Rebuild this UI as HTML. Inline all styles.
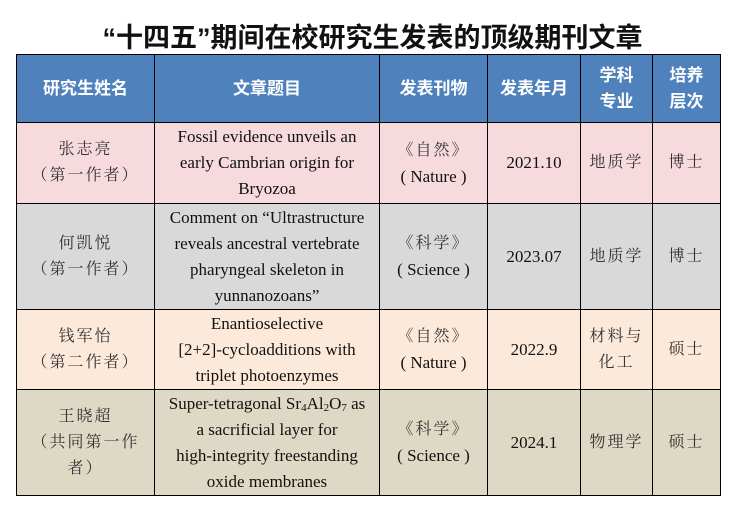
<!DOCTYPE html>
<html><head><meta charset="utf-8"><style>
body{margin:0;width:741px;height:512px;background:#fff;position:relative;overflow:hidden;font-family:"Liberation Serif","Noto Serif CJK SC",serif;}
.t{position:absolute;left:0;width:745px;top:21px;text-align:center;font-size:27px;font-weight:bold;font-family:"Liberation Sans","Noto Sans CJK SC",sans-serif;color:#111;line-height:34px;}
table{position:absolute;left:16px;top:54px;border-collapse:collapse;table-layout:fixed;}
td{border:1.5px solid #000;text-align:center;vertical-align:middle;font-size:17px;line-height:26px;color:#111;padding:0;}
th{border:1.5px solid #000;background:#4f81bd;color:#fff;font-size:17px;font-family:"Liberation Sans","Noto Sans CJK SC",sans-serif;font-weight:bold;line-height:26px;height:65px;}
.c{color:#333;font-family:"Liberation Serif","Noto Serif CJK SC",serif;letter-spacing:2px;font-size:16px;}
.r1 td{background:#f7dadd;height:80px}
.r2 td{background:#d9d9d9;height:105px}
.r3 td{background:#fde9d9;height:79px}
.r4 td{background:#ddd9c4;height:105px}
sub{font-size:11px;line-height:0;vertical-align:-2px}
</style></head><body>
<div class="t">“十四五”期间在校研究生发表的顶级期刊文章</div>
<table>
<colgroup><col style="width:138px"><col style="width:225px"><col style="width:108px"><col style="width:93px"><col style="width:72px"><col style="width:68px"></colgroup>
<tr><th>研究生姓名</th><th>文章题目</th><th>发表刊物</th><th>发表年月</th><th>学科<br>专业</th><th>培养<br>层次</th></tr>
<tr class="r1"><td class="c">张志亮<br>（第一作者）</td><td>Fossil evidence unveils an<br>early Cambrian origin for<br>Bryozoa</td><td><span class="c">《自然》</span><br>( Nature )</td><td>2021.10</td><td class="c">地质学</td><td class="c">博士</td></tr>
<tr class="r2"><td class="c">何凯悦<br>（第一作者）</td><td>Comment on “Ultrastructure<br>reveals ancestral vertebrate<br>pharyngeal skeleton in<br>yunnanozoans”</td><td><span class="c">《科学》</span><br>( Science )</td><td>2023.07</td><td class="c">地质学</td><td class="c">博士</td></tr>
<tr class="r3"><td class="c">钱军怡<br>（第二作者）</td><td>Enantioselective<br>[2+2]-cycloadditions with<br>triplet photoenzymes</td><td><span class="c">《自然》</span><br>( Nature )</td><td>2022.9</td><td class="c">材料与<br>化工</td><td class="c">硕士</td></tr>
<tr class="r4"><td class="c">王晓超<br>（共同第一作<br>者）</td><td>Super-tetragonal Sr<sub>4</sub>Al<sub>2</sub>O<sub>7</sub> as<br>a sacrificial layer for<br>high-integrity freestanding<br>oxide membranes</td><td><span class="c">《科学》</span><br>( Science )</td><td>2024.1</td><td class="c">物理学</td><td class="c">硕士</td></tr>
</table>
</body></html>
